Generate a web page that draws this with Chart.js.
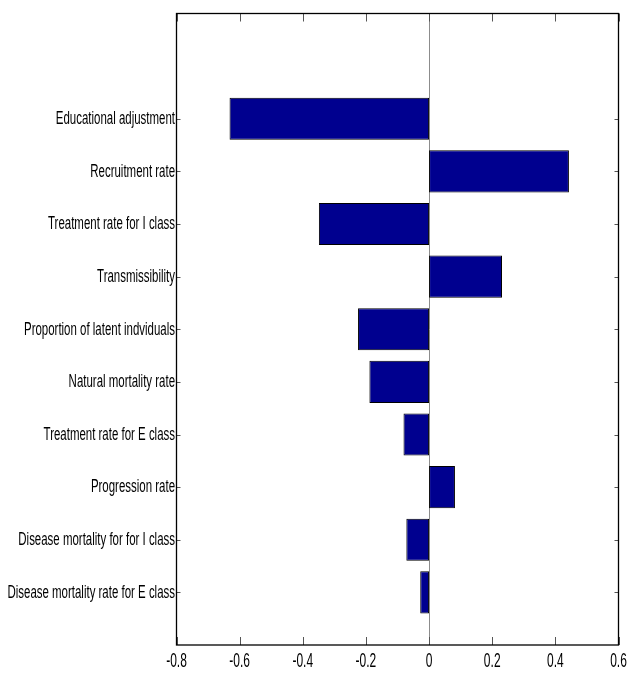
<!DOCTYPE html>
<html>
<head>
<meta charset="utf-8">
<script src="https://cdn.jsdelivr.net/npm/chart.js@4/dist/chart.umd.min.js"></script>
<style>
  html, body { margin: 0; padding: 0; background: #fff; }
  #wrap { width: 629px; height: 675px; }
</style>
</head>
<body>
<div id="wrap"><canvas id="c" width="629" height="675"></canvas></div>
<script>
// Sensitivity indices of the model parameters, top to bottom
const parameters = [
  'Educational adjustment',
  'Recruitment rate',
  'Treatment rate for I class',
  'Transmissibility',
  'Proportion of latent indviduals',
  'Natural mortality rate',
  'Treatment rate for E class',
  'Progression rate',
  'Disease mortality for for I class',
  'Disease mortality rate for E class'
];
const sensitivity = [-0.632, 0.443, -0.349, 0.231, -0.225, -0.189, -0.081, 0.082, -0.072, -0.028];
const xTickValues = [-0.8, -0.6, -0.4, -0.2, 0, 0.2, 0.4, 0.6];
const xTickLabels = ['-0.8', '-0.6', '-0.4', '-0.2', '0', '0.2', '0.4', '0.6'];

// Rows sit at positions 2..11 on a 0..12 vertical axis
const rowPos = parameters.map((_, i) => i + 2);

const FONT = "'Liberation Sans', Arial, sans-serif";

// Draws condensed text (narrow Helvetica look) with a horizontal squeeze
function drawNarrow(ctx, text, x, y, size, squeeze, align) {
  ctx.save();
  ctx.font = size + 'px ' + FONT;
  ctx.fillStyle = '#000';
  ctx.textBaseline = 'middle';
  ctx.textAlign = align;
  ctx.translate(x, y);
  ctx.scale(squeeze, 1);
  ctx.fillText(text, 0, 0);
  ctx.restore();
}

const framePlugin = {
  id: 'frame',
  beforeDatasetsDraw(chart) {
    const { ctx, chartArea: a, scales: { x } } = chart;
    // zero baseline
    const x0 = Math.round(x.getPixelForValue(0)) + 0.5;
    ctx.save();
    ctx.strokeStyle = '#8c8c8c';
    ctx.lineWidth = 1;
    ctx.beginPath();
    ctx.moveTo(x0, a.top);
    ctx.lineTo(x0, a.bottom);
    ctx.stroke();
    ctx.restore();
  },
  afterDraw(chart) {
    const { ctx, chartArea: a, scales: { x, y } } = chart;
    ctx.save();
    ctx.strokeStyle = '#555';
    ctx.lineWidth = 1;
    ctx.beginPath();
    xTickValues.forEach(v => {
      const px = Math.round(x.getPixelForValue(v)) + 0.5;
      ctx.moveTo(px, a.top); ctx.lineTo(px, a.top + 8);
      ctx.moveTo(px, a.bottom); ctx.lineTo(px, a.bottom - 8);
    });
    rowPos.forEach(v => {
      const py = Math.round(y.getPixelForValue(v)) + 0.5;
      ctx.moveTo(a.left, py); ctx.lineTo(a.left + 4, py);
      ctx.moveTo(a.right, py); ctx.lineTo(a.right - 4, py);
    });
    ctx.stroke();
    ctx.strokeStyle = '#000';
    ctx.lineWidth = 1.3;
    ctx.strokeRect(a.left, a.top, a.right - a.left, a.bottom - a.top);
    ctx.restore();

    // tick labels
    rowPos.forEach((v, i) => {
      drawNarrow(ctx, parameters[i], a.left - 1.5, y.getPixelForValue(v) + 0.5, 17.5, 0.655, 'right');
    });
    xTickValues.forEach((v, i) => {
      drawNarrow(ctx, xTickLabels[i], x.getPixelForValue(v), a.bottom + 16, 20, 0.6, 'center');
    });
  }
};

new Chart(document.getElementById('c'), {
  type: 'bar',
  data: {
    datasets: [{
      data: sensitivity.map((v, i) => ({ x: v, y: rowPos[i] })),
      backgroundColor: '#00008f',
      borderColor: '#000',
      borderWidth: 1,
      borderSkipped: false,
      barPercentage: 0.8,
      categoryPercentage: 1
    }]
  },
  options: {
    indexAxis: 'y',
    responsive: false,
    animation: false,
    devicePixelRatio: 1,
    layout: { padding: { top: 13.5, right: 10.5, left: 0, bottom: 0 } },
    plugins: { legend: { display: false }, tooltip: { enabled: false } },
    scales: {
      x: {
        type: 'linear',
        min: -0.8,
        max: 0.6,
        afterBuildTicks(s) { s.ticks = xTickValues.map(v => ({ value: v })); },
        afterFit(s) { s.height = 30; },
        grid: { display: false, drawTicks: false },
        border: { display: false },
        ticks: { display: false }
      },
      y: {
        type: 'linear',
        reverse: true,
        offset: false,
        min: 0,
        max: 12,
        afterBuildTicks(s) { s.ticks = rowPos.map(v => ({ value: v })); },
        afterFit(s) { s.width = 176.5; },
        grid: { display: false, drawTicks: false, offset: false },
        border: { display: false },
        ticks: { display: false }
      }
    }
  },
  plugins: [framePlugin]
});
</script>
</body>
</html>
